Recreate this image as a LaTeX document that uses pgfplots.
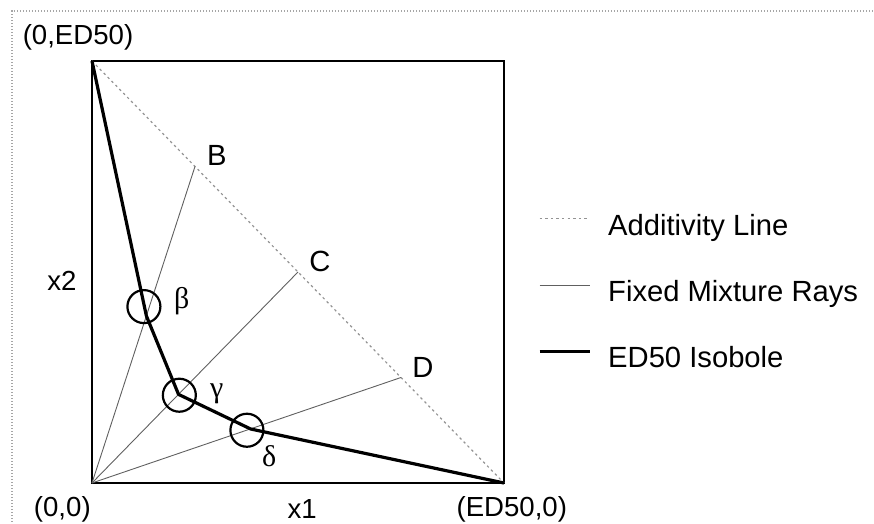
\documentclass[border=0pt]{standalone}
\usepackage{fontspec}
\setmainfont{Liberation Sans}
\newfontfamily\grk{Liberation Serif}
\usepackage{pgfplots}
\pgfplotsset{compat=1.18}
\begin{document}
\begin{tikzpicture}
\useasboundingbox (-46pt,-20.5pt) rectangle (391pt,241.5pt);
\draw[gray!70, line width=0.6pt, dash pattern=on 0.6pt off 0.9pt] (-40pt,-21pt) -- (-40pt,236pt) -- (392pt,236pt);
\begin{axis}[
  at={(0pt,0pt)}, anchor=south west,
  scale only axis, width=206pt, height=211pt,
  xmin=0, xmax=1, ymin=0, ymax=1,
  axis line style={line width=1.2pt, black},
  xtick=\empty, ytick=\empty,
  clip=false,
  legend style={draw=none, fill=none, inner sep=0pt, outer sep=0pt,
    at={(rel axis cs:1.0825,0.637)}, anchor=north west,
    font=\fontsize{14.6}{16}\selectfont,
    row sep=19.7pt, column sep=8.5pt,
    nodes={inner sep=0pt, text height=10.5pt, text depth=3pt}},
  legend cell align=left,
  legend image code/.code={\draw[#1] (0pt,4.5pt) -- (25pt,4.5pt);},
]
% additivity line
\addplot[gray!85, line width=0.6pt, dash pattern=on 1.2pt off 1.6pt] coordinates {(0,1) (1,0)};
\addlegendentry{Additivity Line}
% fixed mixture rays
\addplot[gray!75!black, line width=0.45pt] coordinates {(0,0) (0.25,0.75)};
\addlegendentry{Fixed Mixture Rays}
\addplot[gray!75!black, line width=0.45pt, forget plot] coordinates {(0,0) (0.5,0.5)};
\addplot[gray!75!black, line width=0.45pt, forget plot] coordinates {(0,0) (0.75,0.25)};
% isobole
\addplot[black, line width=1.6pt, line join=round] coordinates {(0,1) (0.132,0.396) (0.21,0.21) (0.385,0.128) (1,0)};
\addlegendentry{ED50 Isobole}
% circles
\addplot[only marks, mark=o, mark size=8.25pt, mark options={line width=1.1pt, black}, forget plot]
  coordinates {(0.126,0.418) (0.212,0.208) (0.376,0.125)};
% labels
\begin{scope}[font=\fontsize{13.8}{16}\selectfont]
\node at (rel axis cs:-0.034,1.057) {(0,ED50)};
\node at (rel axis cs:-0.073,0.479) {x2};
\node at (rel axis cs:-0.072,-0.062) {(0,0)};
\node at (rel axis cs:0.510,-0.062) {x1};
\node at (rel axis cs:1.019,-0.062) {(ED50,0)};
\end{scope}
\begin{scope}[font=\fontsize{14.6}{16}\selectfont]
\node at (rel axis cs:0.303,0.775) {B};
\node at (rel axis cs:0.553,0.526) {C};
\node at (rel axis cs:0.803,0.273) {D};
\end{scope}
\begin{scope}[font=\grk\fontsize{15}{16}\selectfont]
\node at (rel axis cs:0.218,0.431) {β};
\node at (rel axis cs:0.303,0.211) {γ};
\node at (rel axis cs:0.430,0.064) {δ};
\end{scope}
\end{axis}
\end{tikzpicture}
\end{document}
